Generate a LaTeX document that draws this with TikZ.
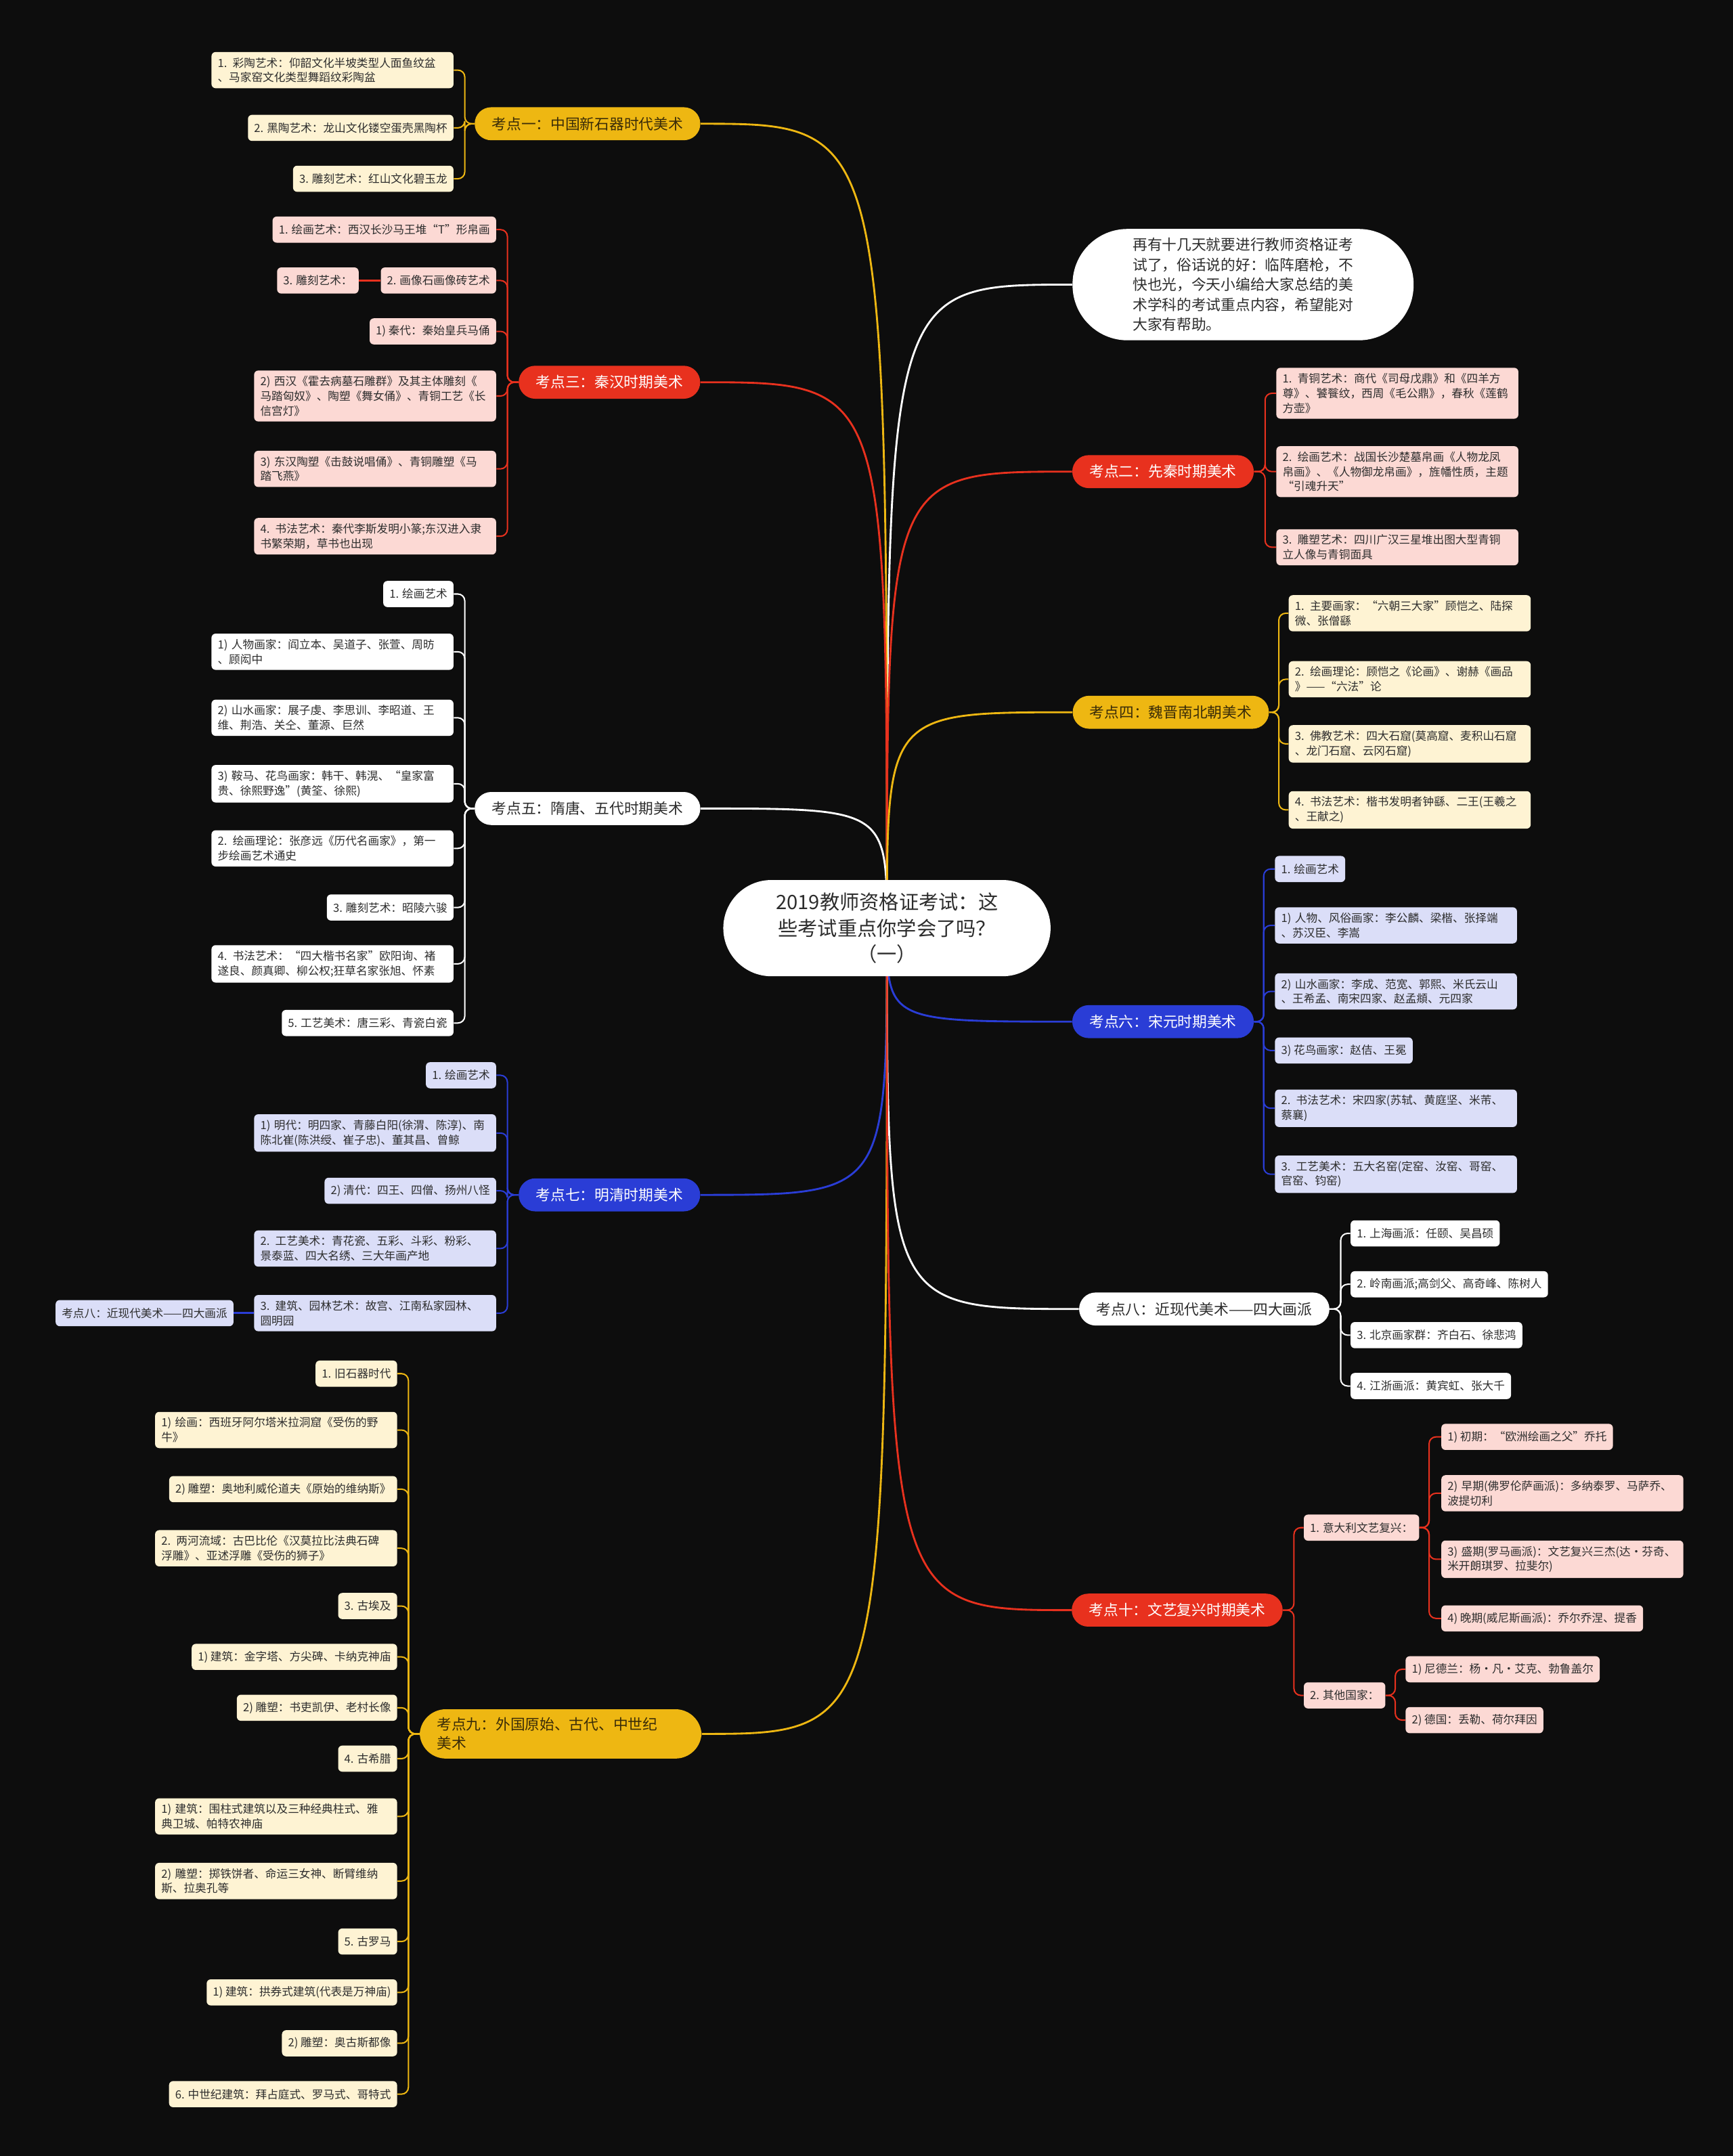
\documentclass[tikz,border=0pt]{standalone}
\usepackage{fontspec}
\setmainfont{Noto Sans CJK SC}
\usetikzlibrary{backgrounds}
\definecolor{bgblack}{RGB}{13,13,13}
\definecolor{gold}{RGB}{238,183,18}
\definecolor{goldtext}{RGB}{58,44,8}
\definecolor{crimson}{RGB}{232,49,30}
\definecolor{royal}{RGB}{42,61,214}
\definecolor{cream}{RGB}{254,243,211}
\definecolor{blush}{RGB}{252,217,212}
\definecolor{lavender}{RGB}{219,222,248}
\definecolor{ink}{RGB}{45,45,45}

\begin{document}
\begin{tikzpicture}[
    x=1pt, y=-1pt,
    root/.style={rectangle, fill=white, rounded corners=35pt, minimum width=238pt, minimum height=70pt, align=center, text=ink, font=\fontsize{14.4}{19}\selectfont},
    intro/.style={rectangle, fill=white, rounded corners=40pt, minimum width=248pt, minimum height=81pt, align=left, text=ink, font=\fontsize{10.7}{14.5}\selectfont},
    branch/.style={rectangle, rounded corners=12pt, minimum height=24pt, inner xsep=12.5pt, inner ysep=0pt, font=\fontsize{10.7}{14}\selectfont},
    leaf/.style={rectangle, rounded corners=3pt, minimum height=19pt, inner xsep=4.5pt, inner ysep=4pt, align=left, text=ink, font=\fontsize{8.2}{10.7}\selectfont},
    wide/.style={text width=167pt},
    yleaf/.style={leaf, fill=cream},
    rleaf/.style={leaf, fill=blush},
    bleaf/.style={leaf, fill=lavender},
    wleaf/.style={leaf, fill=white},
    limb/.style={line width=1.4pt},
    twig/.style={line width=1pt, rounded corners=5pt}
]

\useasboundingbox (0,0) rectangle (1260,1568);
\begin{pgfonlayer}{background}
    \fill[bgblack] (-3,-3) rectangle (1263,1571);
\end{pgfonlayer}

% Root
\node[root] (root) at (645,675) {2019教师资格证考试：这\\些考试重点你学会了吗？\\（一）};

% ------------------ Intro ------------------
\node[intro] (intro) at (904,207) {再有十几天就要进行教师资格证考\\试了，俗话说的好：临阵磨枪，不\\快也光，今天小编给大家总结的美\\术学科的考试重点内容，希望能对\\大家有帮助。};

% ------------------ 考点一 ------------------
\node[branch, fill=gold, text=goldtext, anchor=west] (neolithic) at (345,90) {考点一：中国新石器时代美术};
\node[yleaf, wide, anchor=east] (neo1) at (330,51) {1. 彩陶艺术：仰韶文化半坡类型人面鱼纹盆\\、马家窑文化类型舞蹈纹彩陶盆};
\node[yleaf, anchor=east] (neo2) at (330,93) {2. 黑陶艺术：龙山文化镂空蛋壳黑陶杯};
\node[yleaf, anchor=east] (neo3) at (330,130) {3. 雕刻艺术：红山文化碧玉龙};

% ------------------ 考点三 ------------------
\node[branch, fill=crimson, text=white, anchor=west] (qinhan) at (377,278) {考点三：秦汉时期美术};
\node[rleaf, anchor=east] (qh1) at (361,167) {1. 绘画艺术：西汉长沙马王堆“T”形帛画};
\node[rleaf, anchor=east] (qh2) at (361,204) {2. 画像石画像砖艺术};
\node[rleaf, anchor=east] (qh2a) at (261,204) {3. 雕刻艺术：};
\node[rleaf, anchor=east] (qh3) at (361,241) {1) 秦代：秦始皇兵马俑};
\node[rleaf, wide, anchor=east] (qh4) at (361,288) {2) 西汉《霍去病墓石雕群》及其主体雕刻《\\马踏匈奴》、陶塑《舞女俑》、青铜工艺《长\\信宫灯》};
\node[rleaf, wide, anchor=east] (qh5) at (361,341) {3) 东汉陶塑《击鼓说唱俑》、青铜雕塑《马\\踏飞燕》};
\node[rleaf, wide, anchor=east] (qh6) at (361,390) {4. 书法艺术：秦代李斯发明小篆;东汉进入隶\\书繁荣期，草书也出现};

% ------------------ 考点五 ------------------
\node[branch, fill=white, text=ink, anchor=west] (suitang) at (345,588) {考点五：隋唐、五代时期美术};
\node[wleaf, anchor=east] (st1) at (330,432) {1. 绘画艺术};
\node[wleaf, wide, anchor=east] (st2) at (330,474) {1) 人物画家：阎立本、吴道子、张萱、周昉\\、顾闳中};
\node[wleaf, wide, anchor=east] (st3) at (330,522) {2) 山水画家：展子虔、李思训、李昭道、王\\维、荆浩、关仝、董源、巨然};
\node[wleaf, wide, anchor=east] (st4) at (330,570) {3) 鞍马、花鸟画家：韩干、韩滉、“皇家富\\贵、徐熙野逸”(黄筌、徐熙)};
\node[wleaf, wide, anchor=east] (st5) at (330,617) {2. 绘画理论：张彦远《历代名画家》，第一\\步绘画艺术通史};
\node[wleaf, anchor=east] (st6) at (330,660) {3. 雕刻艺术：昭陵六骏};
\node[wleaf, wide, anchor=east] (st7) at (330,701) {4. 书法艺术：“四大楷书名家”欧阳询、褚\\遂良、颜真卿、柳公权;狂草名家张旭、怀素};
\node[wleaf, anchor=east] (st8) at (330,744) {5. 工艺美术：唐三彩、青瓷白瓷};

% ------------------ 考点七 ------------------
\node[branch, fill=royal, text=white, anchor=west] (mingqing) at (377,869) {考点七：明清时期美术};
\node[bleaf, anchor=east] (mq1) at (361,782) {1. 绘画艺术};
\node[bleaf, wide, anchor=east] (mq2) at (361,824) {1) 明代：明四家、青藤白阳(徐渭、陈淳)、南\\陈北崔(陈洪绶、崔子忠)、董其昌、曾鲸};
\node[bleaf, anchor=east] (mq3) at (361,866) {2) 清代：四王、四僧、扬州八怪};
\node[bleaf, wide, anchor=east] (mq4) at (361,908) {2. 工艺美术：青花瓷、五彩、斗彩、粉彩、\\景泰蓝、四大名绣、三大年画产地};
\node[bleaf, wide, anchor=east] (mq5) at (361,955) {3. 建筑、园林艺术：故宫、江南私家园林、\\圆明园};
\node[bleaf, anchor=east] (mq5a) at (170,955) {考点八：近现代美术——四大画派};

% ------------------ 考点九 ------------------
\node[branch, fill=gold, text=goldtext, text width=180pt, align=left, inner ysep=6pt, rounded corners=19pt, anchor=west] (foreign) at (305,1261) {考点九：外国原始、古代、中世纪\\美术};
\node[yleaf, anchor=east] (fr1) at (289,999) {1. 旧石器时代};
\node[yleaf, wide, anchor=east] (fr2) at (289,1040) {1) 绘画：西班牙阿尔塔米拉洞窟《受伤的野\\牛》};
\node[yleaf, anchor=east] (fr3) at (289,1083) {2) 雕塑：奥地利威伦道夫《原始的维纳斯》};
\node[yleaf, wide, anchor=east] (fr4) at (289,1126) {2. 两河流域：古巴比伦《汉莫拉比法典石碑\\浮雕》、亚述浮雕《受伤的狮子》};
\node[yleaf, anchor=east] (fr5) at (289,1168) {3. 古埃及};
\node[yleaf, anchor=east] (fr6) at (289,1205) {1) 建筑：金字塔、方尖碑、卡纳克神庙};
\node[yleaf, anchor=east] (fr7) at (289,1242) {2) 雕塑：书吏凯伊、老村长像};
\node[yleaf, anchor=east] (fr8) at (289,1279) {4. 古希腊};
\node[yleaf, wide, anchor=east] (fr9) at (289,1321) {1) 建筑：围柱式建筑以及三种经典柱式、雅\\典卫城、帕特农神庙};
\node[yleaf, wide, anchor=east] (fr10) at (289,1368) {2) 雕塑：掷铁饼者、命运三女神、断臂维纳\\斯、拉奥孔等};
\node[yleaf, anchor=east] (fr11) at (289,1412) {5. 古罗马};
\node[yleaf, anchor=east] (fr12) at (289,1449) {1) 建筑：拱券式建筑(代表是万神庙)};
\node[yleaf, anchor=east] (fr13) at (289,1486) {2) 雕塑：奥古斯都像};
\node[yleaf, anchor=east] (fr14) at (289,1523) {6. 中世纪建筑：拜占庭式、罗马式、哥特式};

% ------------------ 考点二 ------------------
\node[branch, fill=crimson, text=white, anchor=east] (preqin) at (912,343) {考点二：先秦时期美术};
\node[rleaf, wide, anchor=west] (pq1) at (928,286) {1. 青铜艺术：商代《司母戊鼎》和《四羊方\\尊》、饕餮纹，西周《毛公鼎》，春秋《莲鹤\\方壶》};
\node[rleaf, wide, anchor=west] (pq2) at (928,343) {2. 绘画艺术：战国长沙楚墓帛画《人物龙凤\\帛画》、《人物御龙帛画》，旌幡性质，主题\\“引魂升天”};
\node[rleaf, wide, anchor=west] (pq3) at (928,398) {3. 雕塑艺术：四川广汉三星堆出图大型青铜\\立人像与青铜面具};

% ------------------ 考点四 ------------------
\node[branch, fill=gold, text=goldtext, anchor=east] (weijin) at (923,518) {考点四：魏晋南北朝美术};
\node[yleaf, wide, anchor=west] (wj1) at (937,446) {1. 主要画家：“六朝三大家”顾恺之、陆探\\微、张僧繇};
\node[yleaf, wide, anchor=west] (wj2) at (937,494) {2. 绘画理论：顾恺之《论画》、谢赫《画品\\》——“六法”论};
\node[yleaf, wide, anchor=west] (wj3) at (937,541) {3. 佛教艺术：四大石窟(莫高窟、麦积山石窟\\、龙门石窟、云冈石窟)};
\node[yleaf, wide, anchor=west] (wj4) at (937,589) {4. 书法艺术：楷书发明者钟繇、二王(王羲之\\、王献之)};

% ------------------ 考点六 ------------------
\node[branch, fill=royal, text=white, anchor=east] (songyuan) at (912,743) {考点六：宋元时期美术};
\node[bleaf, anchor=west] (sy1) at (927,632) {1. 绘画艺术};
\node[bleaf, wide, anchor=west] (sy2) at (927,673) {1) 人物、风俗画家：李公麟、梁楷、张择端\\、苏汉臣、李嵩};
\node[bleaf, wide, anchor=west] (sy3) at (927,721) {2) 山水画家：李成、范宽、郭熙、米氏云山\\、王希孟、南宋四家、赵孟頫、元四家};
\node[bleaf, anchor=west] (sy4) at (927,764) {3) 花鸟画家：赵佶、王冕};
\node[bleaf, wide, anchor=west] (sy5) at (927,806) {2. 书法艺术：宋四家(苏轼、黄庭坚、米芾、\\蔡襄)};
\node[bleaf, wide, anchor=west] (sy6) at (927,854) {3. 工艺美术：五大名窑(定窑、汝窑、哥窑、\\官窑、钧窑)};

% ------------------ 考点八 ------------------
\node[branch, fill=white, text=ink, anchor=east] (modern) at (967,952) {考点八：近现代美术——四大画派};
\node[wleaf, anchor=west] (md1) at (982,897) {1. 上海画派：任颐、吴昌硕};
\node[wleaf, anchor=west] (md2) at (982,934) {2. 岭南画派;高剑父、高奇峰、陈树人};
\node[wleaf, anchor=west] (md3) at (982,971) {3. 北京画家群：齐白石、徐悲鸿};
\node[wleaf, anchor=west] (md4) at (982,1008) {4. 江浙画派：黄宾虹、张大千};

% ------------------ 考点十 ------------------
\node[branch, fill=crimson, text=white, anchor=east] (renaissance) at (933,1171) {考点十：文艺复兴时期美术};
\node[rleaf, anchor=west] (rn1) at (948,1111) {1. 意大利文艺复兴：};
\node[rleaf, anchor=west] (rn1a) at (1048,1045) {1) 初期：“欧洲绘画之父”乔托};
\node[rleaf, wide, anchor=west] (rn1b) at (1048,1086) {2) 早期(佛罗伦萨画派)：多纳泰罗、马萨乔、\\波提切利};
\node[rleaf, wide, anchor=west] (rn1c) at (1048,1134) {3) 盛期(罗马画派)：文艺复兴三杰(达·芬奇、\\米开朗琪罗、拉斐尔)};
\node[rleaf, anchor=west] (rn1d) at (1048,1177) {4) 晚期(威尼斯画派)：乔尔乔涅、提香};
\node[rleaf, anchor=west] (rn2) at (948,1233) {2. 其他国家：};
\node[rleaf, anchor=west] (rn2a) at (1022,1214) {1) 尼德兰：杨·凡·艾克、勃鲁盖尔};
\node[rleaf, anchor=west] (rn2b) at (1022,1251) {2) 德国：丢勒、荷尔拜因};

% ------------------ Connectors ------------------
\begin{pgfonlayer}{background}
    % root to branches
    \draw[limb, white] (root.center) .. controls (root.center |- intro.west) .. (intro.west);
    \draw[limb, gold] (root.center) .. controls (root.center |- neolithic.east) .. (neolithic.east);
    \draw[limb, crimson] (root.center) .. controls (root.center |- qinhan.east) .. (qinhan.east);
    \draw[limb, white] (root.center) .. controls (root.center |- suitang.east) .. (suitang.east);
    \draw[limb, royal] (root.center) .. controls (root.center |- mingqing.east) .. (mingqing.east);
    \draw[limb, gold] (root.center) .. controls (root.center |- foreign.east) .. (foreign.east);
    \draw[limb, crimson] (root.center) .. controls (root.center |- preqin.west) .. (preqin.west);
    \draw[limb, gold] (root.center) .. controls (root.center |- weijin.west) .. (weijin.west);
    \draw[limb, royal] (root.center) .. controls (root.center |- songyuan.west) .. (songyuan.west);
    \draw[limb, white] (root.center) .. controls (root.center |- modern.west) .. (modern.west);
    \draw[limb, crimson] (root.center) .. controls (root.center |- renaissance.west) .. (renaissance.west);

    % left side leaves
    \foreach \c in {neo1,neo2,neo3}
        \draw[twig, gold] (neolithic.west) -- ++(-7,0) |- (\c.east);
    \foreach \c in {qh1,qh2,qh3,qh4,qh5,qh6}
        \draw[twig, crimson] (qinhan.west) -- ++(-8,0) |- (\c.east);
    \draw[limb, crimson] (qh2a.east) -- (qh2.west);
    \foreach \c in {st1,st2,st3,st4,st5,st6,st7,st8}
        \draw[twig, white] (suitang.west) -- ++(-7,0) |- (\c.east);
    \foreach \c in {mq1,mq2,mq3,mq4,mq5}
        \draw[twig, royal] (mingqing.west) -- ++(-8,0) |- (\c.east);
    \draw[limb, royal] (mq5a.east) -- (mq5.west);
    \foreach \c in {fr1,fr2,fr3,fr4,fr5,fr6,fr7,fr8,fr9,fr10,fr11,fr12,fr13,fr14}
        \draw[twig, gold] (foreign.west) -- ++(-8,0) |- (\c.east);

    % right side leaves
    \foreach \c in {pq1,pq2,pq3}
        \draw[twig, crimson] (preqin.east) -- ++(8,0) |- (\c.west);
    \foreach \c in {wj1,wj2,wj3,wj4}
        \draw[twig, gold] (weijin.east) -- ++(7,0) |- (\c.west);
    \foreach \c in {sy1,sy2,sy3,sy4,sy5,sy6}
        \draw[twig, royal] (songyuan.east) -- ++(7,0) |- (\c.west);
    \foreach \c in {md1,md2,md3,md4}
        \draw[twig, white] (modern.east) -- ++(8,0) |- (\c.west);
    \foreach \c in {rn1,rn2}
        \draw[twig, crimson] (renaissance.east) -- ++(8,0) |- (\c.west);
    \foreach \c in {rn1a,rn1b,rn1c,rn1d}
        \draw[twig, crimson] (rn1.east) -- ++(7,0) |- (\c.west);
    \foreach \c in {rn2a,rn2b}
        \draw[twig, crimson] (rn2.east) -- ++(7,0) |- (\c.west);
\end{pgfonlayer}

\end{tikzpicture}
\end{document}
